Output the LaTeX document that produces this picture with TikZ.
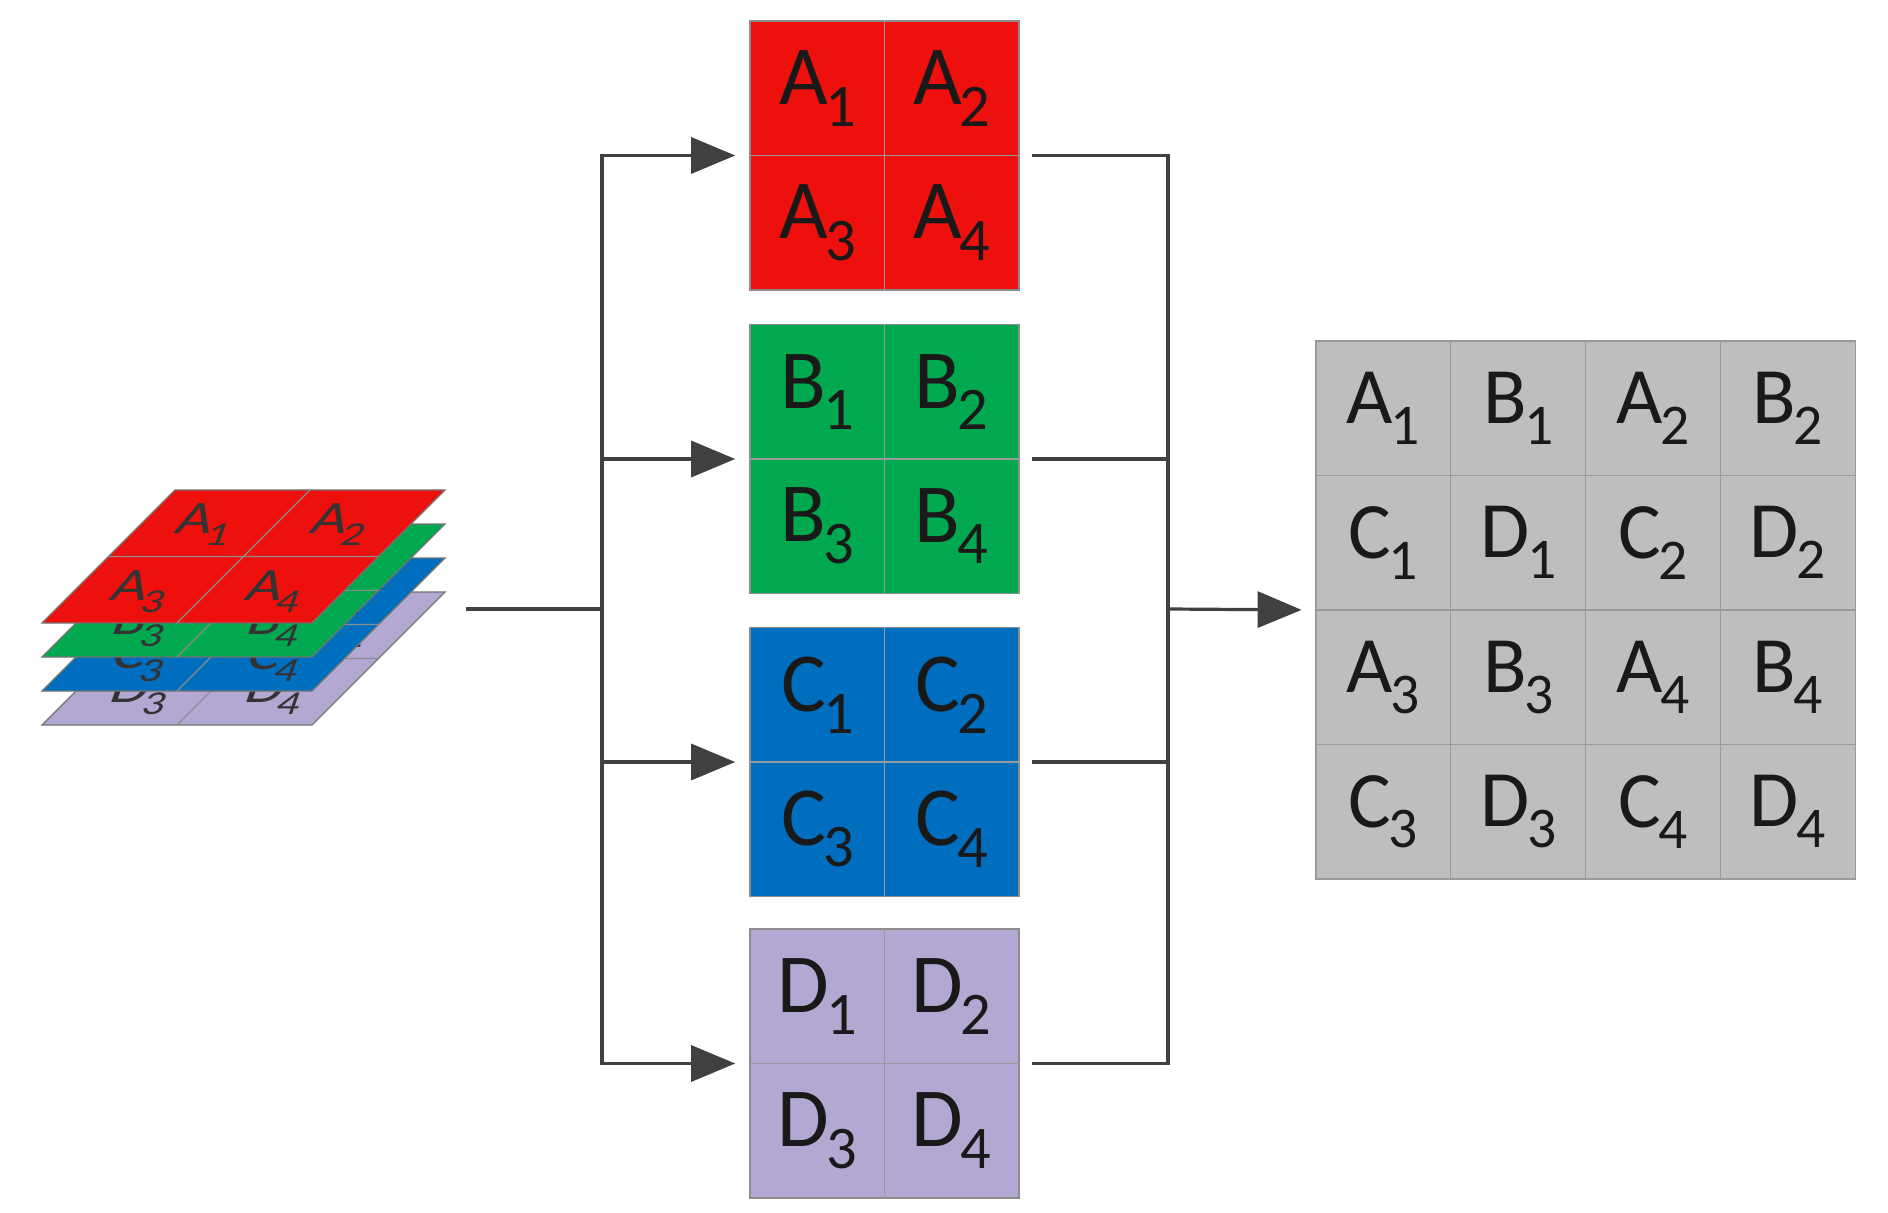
\documentclass[tikz,border=0pt]{standalone}
\usepackage{fontspec}
\setmainfont{Carlito}
\usetikzlibrary{arrows.meta}
\definecolor{cA}{RGB}{238,16,12}
\definecolor{cB}{RGB}{0,168,80}
\definecolor{cC}{RGB}{0,110,190}
\definecolor{cD}{RGB}{178,168,210}
\definecolor{cG}{RGB}{190,190,190}
\definecolor{ln}{RGB}{64,64,64}
\newcommand{\lb}[2]{#1\kern-0.03em\raisebox{-0.26em}{\scalebox{0.72}{#2}}}
\tikzset{
  box/.style={draw=black!45,line width=0.8pt,minimum width=134.5pt,minimum height=134.5pt,inner sep=0pt},
  cell/.style={draw=black!40,line width=0.6pt,minimum width=67.4pt,minimum height=67.2pt,inner sep=0pt,fill=cG,font=\fontsize{40}{40}\selectfont,text=black!90},
  big/.style={font=\fontsize{42}{42}\selectfont,text=black!90},
  conn/.style={draw=ln,line width=1.6pt},
  arr/.style={conn,-{Triangle[length=22pt,width=18pt]}},
  slab/.style={font=\fontsize{31}{31}\selectfont,text=black!80,xslant=0.35,yscale=0.75,transform shape}
}
\begin{document}
\begin{tikzpicture}[x=0.5pt,y=-0.5pt]
\useasboundingbox (0,0) rectangle (1888,1213);
% stack of layers
\foreach \L/\c/\k in {D/cD/3,C/cC/2,B/cB/1,A/cA/0}{
  \begin{scope}[yshift=-34*\k*0.5pt]
  \filldraw[fill=\c,draw=black!55,line width=0.7pt] (42,623) -- (175,490) -- (445,490) -- (312,623) -- cycle;
  \draw[black!45,line width=0.6pt] (177,623) -- (310,490) (108.5,556.5) -- (378.5,556.5);
  \node[slab] (s\L1) at (205,525) {\lb{\L}{1}};
  \node[slab] (s\L2) at (340,525) {\lb{\L}{2}};
  \node[slab] (s\L3) at (140,592) {\lb{\L}{3}};
  \node[slab] (s\L4) at (275,592) {\lb{\L}{4}};
  \end{scope}
}
% middle boxes
\foreach \L/\c/\y in {A/cA/155.5,B/cB/459,C/cC/762,D/cD/1063.5}{
  \node[box,fill=\c] (b\L) at (884.5,\y) {};
  \draw[black!40,line width=0.6pt] (b\L.north) -- (b\L.south) (b\L.west) -- (b\L.east);
  \node[big] (b\L1) at ([shift={(-67,-67)}]b\L.center) {\lb{\L}{1}};
  \node[big] (b\L2) at ([shift={(67,-67)}]b\L.center) {\lb{\L}{2}};
  \node[big] (b\L3) at ([shift={(-67,67)}]b\L.center) {\lb{\L}{3}};
  \node[big] (b\L4) at ([shift={(67,67)}]b\L.center) {\lb{\L}{4}};
}
% output grid
\node[inner sep=0pt,minimum width=269.5pt,minimum height=269pt] (grid) at (1585.5,610) {};
\foreach \t [count=\i from 0] in {A1,B1,A2,B2,C1,D1,C2,D2,A3,B3,A4,B4,C3,D3,C4,D4}{
  \pgfmathtruncatemacro{\cc}{mod(\i,4)}
  \pgfmathtruncatemacro{\rr}{div(\i,4)}
  \edef\tl{\t}
  \node[cell] (g\i) at (1316+67.4+134.8*\cc,341+67.2+134.5*\rr) {\expandafter\lb\tl};
}
% connectors
\coordinate (s) at (466,609);
\coordinate (j1) at (602,609);
\coordinate (j2) at (1168,609);
\draw[conn] (s) -- (j1);
\foreach \L in {A,B,C,D}{
  \draw[arr,shorten >=7pt] (j1) |- (b\L.west);
  \draw[conn,shorten <=6pt] (b\L.east) -| (j2);
}
\draw[arr,shorten >=7pt] (j2) -- (grid.west);
\end{tikzpicture}
\end{document}
